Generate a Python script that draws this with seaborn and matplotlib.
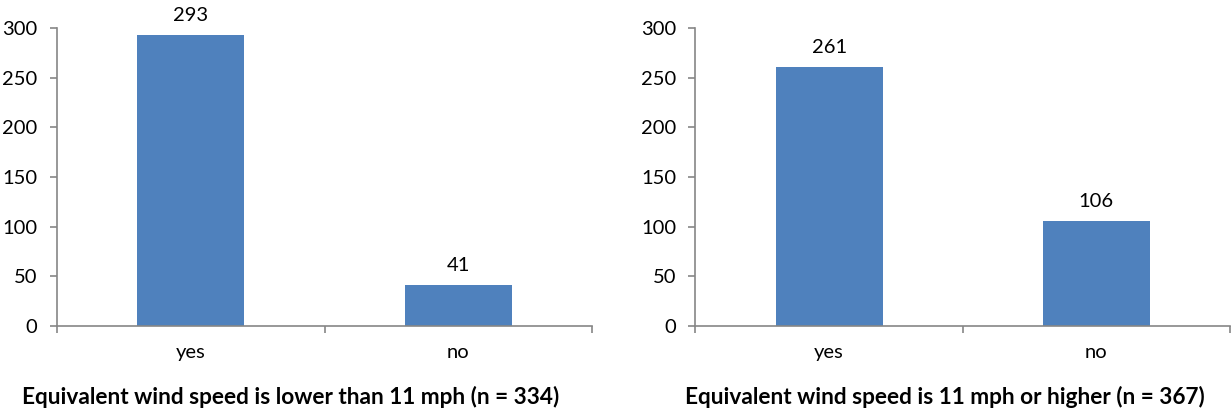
import matplotlib
matplotlib.use("Agg")
import matplotlib.pyplot as plt
import seaborn as sns
import pandas as pd

categories = ["yes", "no"]
low_wind_counts = [293, 41]
high_wind_counts = [261, 106]
titles = [
    "Equivalent wind speed is lower than 11 mph (n = 334)",
    "Equivalent wind speed is 11 mph or higher (n = 367)",
]
y_ticks = [0, 50, 100, 150, 200, 250, 300]

sns.set_theme(style="white")
plt.rcParams["font.family"] = ["Lato", "DejaVu Sans"]

BAR_COLOR = "#4F81BD"
AXIS_COLOR = "#868686"
LABEL_SIZE = 14.5

fig = plt.figure(figsize=(12.31, 4.13), dpi=100)
W, H = 1231, 413
boxes = [(57, 592), (695.5, 1230)]
title_x = [291, 945]
y0, y1 = 326, 28

for (xl, xr), counts, title, tx in zip(boxes, [low_wind_counts, high_wind_counts], titles, title_x):
    ax = fig.add_axes([xl / W, 1 - y0 / H, (xr - xl) / W, (y0 - y1) / H])
    df = pd.DataFrame({"answer": categories, "count": counts})
    sns.barplot(data=df, x="answer", y="count", color=BAR_COLOR, width=0.4,
                saturation=1, ax=ax)
    for p in ax.patches:
        p.set_edgecolor("none")
    ax.bar_label(ax.containers[0], labels=[str(v) for v in counts],
                 padding=8, fontsize=LABEL_SIZE, color="black")
    ax.set_xlim(-0.5, 1.5)
    ax.set_ylim(0, 300)
    ax.set_yticks(y_ticks)
    ax.set_xlabel("")
    ax.set_ylabel("")
    ax.set_xticks([-0.5, 0.5, 1.5], minor=True)
    ax.tick_params(axis="x", which="major", length=0, pad=13, labelsize=LABEL_SIZE, colors="black")
    ax.tick_params(axis="x", which="minor", length=5, width=1.2, direction="out",
                   color=AXIS_COLOR, bottom=True)
    ax.tick_params(axis="y", length=5, width=1.2, direction="out", color=AXIS_COLOR,
                   left=True, pad=9, labelsize=LABEL_SIZE, labelcolor="black")
    for side in ("top", "right"):
        ax.spines[side].set_visible(False)
    for side in ("left", "bottom"):
        ax.spines[side].set_color(AXIS_COLOR)
        ax.spines[side].set_linewidth(1.2)
    fig.text(tx / W, 1 - 397 / H, title, ha="center", va="center",
             fontsize=16.3, fontweight="bold", color="black")

fig.savefig("out.png", dpi=100)
